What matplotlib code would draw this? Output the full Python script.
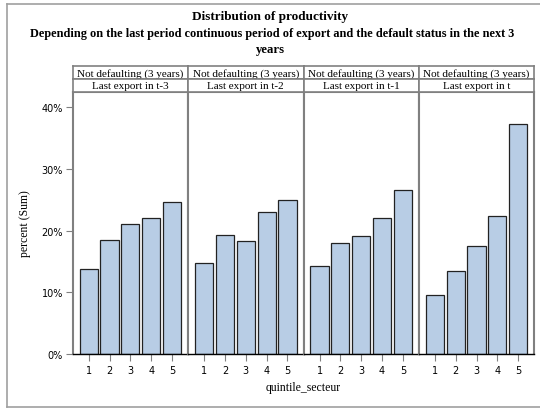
#!/usr/bin/env python3
import matplotlib
matplotlib.use("Agg")
import matplotlib.pyplot as plt
from matplotlib.lines import Line2D
from matplotlib.ticker import FuncFormatter

# Data
quintiles = [1, 2, 3, 4, 5]
row_label = "Not defaulting (3 years)"
panels = ["Last export in t-3", "Last export in t-2", "Last export in t-1", "Last export in t"]
pct_t3 = [13.7, 18.4, 21.0, 22.1, 24.7]
pct_t2 = [14.7, 19.3, 18.3, 23.0, 25.0]
pct_t1 = [14.3, 18.0, 19.1, 22.1, 26.6]
pct_t0 = [9.5, 13.5, 17.5, 22.3, 37.3]
series = [pct_t3, pct_t2, pct_t1, pct_t0]
yticks = [0, 10, 20, 30, 40]

W, H = 540, 410
SERIF = "Liberation Serif"
BAR = "#b8cde5"
GRID = "#808080"


def rect(x0, y0, x1, y1):
    # pixel box (top-left origin) -> figure fraction
    return [x0 / W, 1 - y1 / H, (x1 - x0) / W, (y1 - y0) / H]


def main():
    fig = plt.figure(figsize=(W / 100, H / 100), dpi=100)

    # outer frame
    fr = "#a0a0a0"
    fig.add_artist(Line2D([7 / W, 7 / W], [1 - 5 / H, 1 - 408 / H], color=fr, lw=1.2))
    fig.add_artist(Line2D([7 / W, 1], [1 - 5 / H, 1 - 5 / H], color=fr, lw=1.2))
    fig.add_artist(Line2D([7 / W, 1], [1 - 408 / H, 1 - 408 / H], color=fr, lw=1.2))

    # titles
    fig.text(270 / W, 1 - 17 / H, "Distribution of productivity", ha="center", va="center",
             fontsize=9.5, fontweight="bold", family=SERIF)
    fig.text(272 / W, 1 - 34 / H,
             "Depending on the last period continuous period of export and the default status in the next 3",
             ha="center", va="center", fontsize=8.8, fontweight="bold", family=SERIF)
    fig.text(270 / W, 1 - 50 / H, "years", ha="center", va="center",
             fontsize=9.2, fontweight="bold", family=SERIF)

    edges = [72.7, 188.0, 303.5, 419.0, 534.0]
    top, bottom = 92.7, 355.0
    for i, (name, vals) in enumerate(zip(panels, series)):
        x0, x1 = edges[i], edges[i + 1]
        ax = fig.add_axes(rect(x0, top, x1, bottom))
        ax.bar(quintiles, vals, width=0.87, color=BAR, edgecolor="#222222", linewidth=0.9)
        ax.set_xlim(0.23, 5.77)
        ax.set_ylim(0, 42.5)
        ax.set_xticks(quintiles)
        ax.tick_params(axis="x", length=5, color=GRID, labelsize=7, pad=3)
        for s in ["left", "right", "top"]:
            ax.spines[s].set_color(GRID)
            ax.spines[s].set_linewidth(1.5)
        ax.spines["bottom"].set_color("black")
        ax.spines["bottom"].set_linewidth(1.0)
        if i == 0:
            ax.set_yticks(yticks)
            ax.yaxis.set_major_formatter(FuncFormatter(lambda v, p: f"{v:.0f}%"))
            ax.tick_params(axis="y", length=5, color=GRID, labelsize=7, pad=2)
        else:
            ax.set_yticks([])

        # header cells
        for (ya, yb, txt) in [(66.5, 79.5, row_label), (79.5, top, name)]:
            hx = fig.add_axes(rect(x0, ya, x1, yb))
            hx.set_xticks([])
            hx.set_yticks([])
            for s in hx.spines.values():
                s.set_color(GRID)
                s.set_linewidth(1.2)
            hx.text(0.5, 0.45, txt, ha="center", va="center", fontsize=8,
                    family=SERIF, transform=hx.transAxes)

    fig.text(25 / W, 1 - 224 / H, "percent (Sum)", rotation=90, ha="center", va="center",
             fontsize=8.5, family=SERIF)
    fig.text(303 / W, 1 - 388 / H, "quintile_secteur", ha="center", va="center",
             fontsize=8.5, family=SERIF)

    fig.savefig("out.png", dpi=100)


if __name__ == '__main__':
    main()
